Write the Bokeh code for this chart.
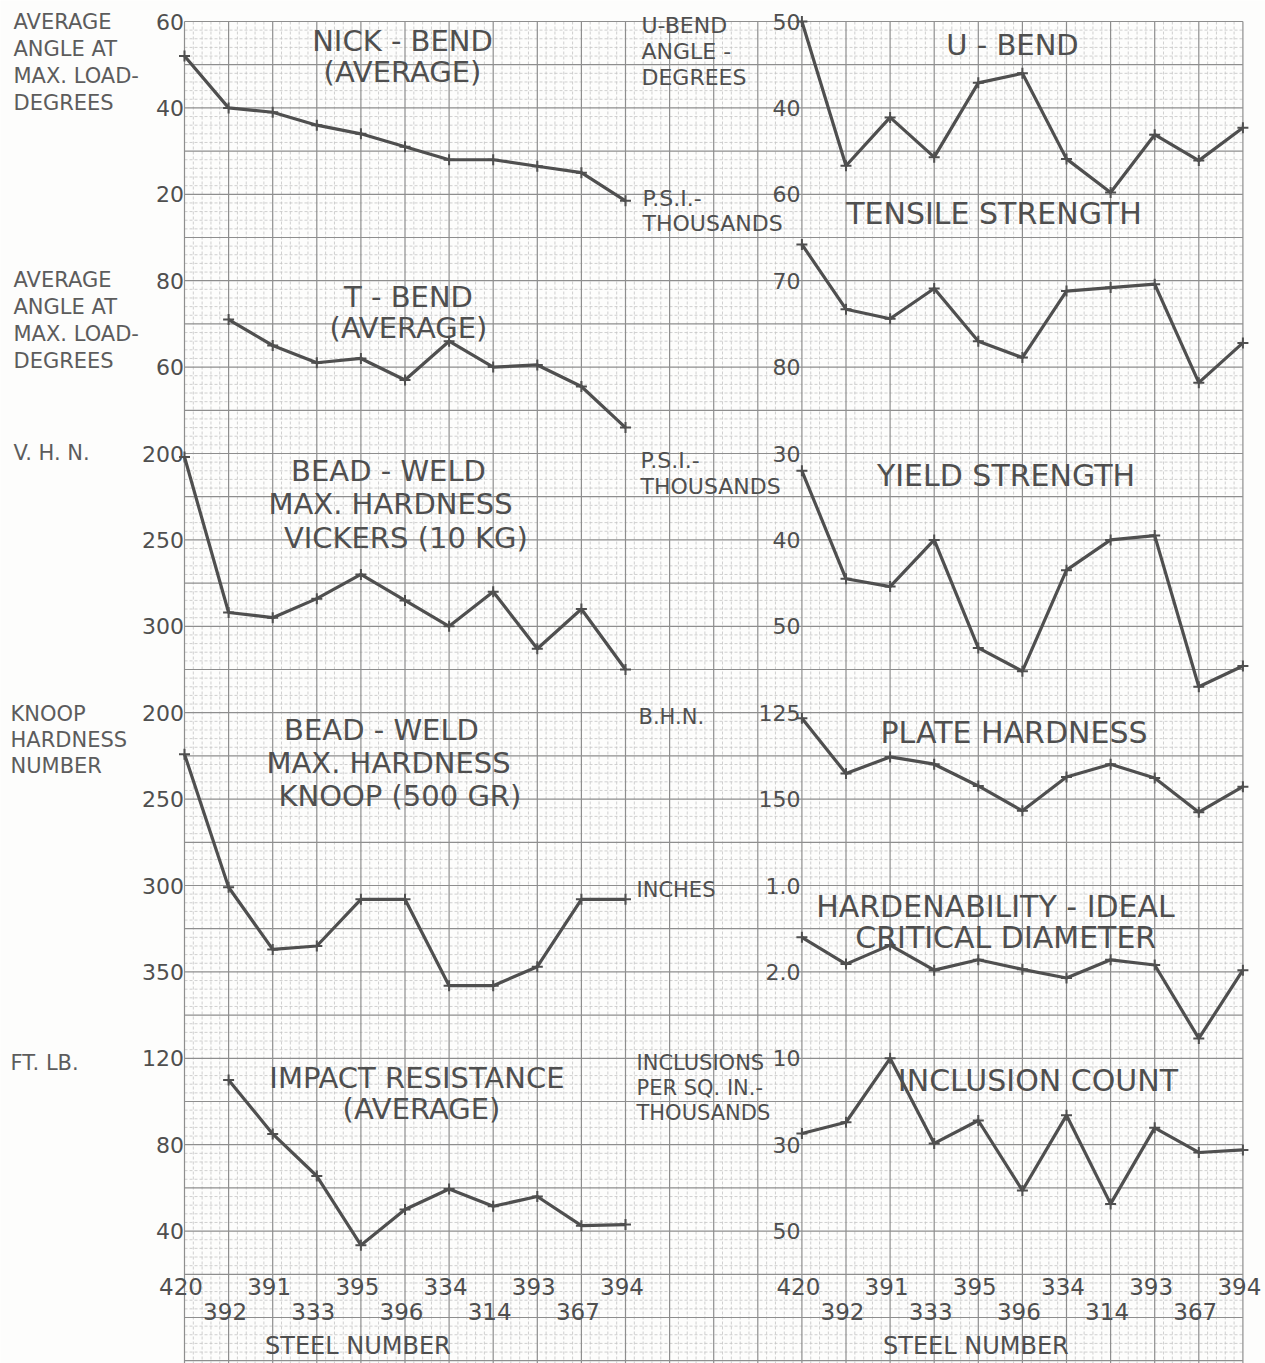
from bokeh.plotting import figure
from bokeh.models import Range1d
from bokeh.core.properties import value
from bokeh.embed import file_html
from bokeh.resources import INLINE

# ---- data -----------------------------------------------------------------
steels = ["420", "392", "391", "333", "395", "396", "334", "314", "393", "367", "394"]

# left column (T-bend and impact start at steel 392)
nick_bend = [52, 40, 39, 36, 34, 31, 28, 28, 26.5, 25, 18.5]
t_bend = [71, 65, 61, 62, 57, 66, 60, 60.5, 55.5, 46]
vickers = [202, 292, 295, 284, 270, 285, 300, 280, 313, 290, 325]
knoop = [224, 301, 337, 335, 308, 308, 358, 358, 347, 308, 308]
impact = [110, 85, 65.5, 33.5, 50, 59.5, 51.5, 56, 42.5, 43]

# right column
u_bend = [50, 33.3, 38.9, 34.3, 42.9, 44, 34.1, 30.2, 36.9, 33.9, 37.7]
tensile = [65.8, 73.3, 74.4, 70.9, 77, 78.9, 71.2, 70.8, 70.4, 81.8, 77.2]
yield_strength = [32, 44.5, 45.4, 40, 52.5, 55.2, 43.5, 40, 39.5, 57, 54.6]
plate_hardness = [126.6, 142.6, 137.8, 139.9, 146.2, 153.4, 143.6, 139.9, 143.9, 153.8, 146.4]
hardenability = [1.60, 1.91, 1.69, 1.98, 1.86, 1.97, 2.07, 1.86, 1.92, 2.77, 1.98]
inclusions = [27.4, 24.8, 10, 29.7, 24.4, 40.6, 23.2, 43.7, 26.1, 31.8, 31.2]

# tick labels of each scale
nick_ticks = [60, 40, 20]
tbend_ticks = [80, 60]
vickers_ticks = [200, 250, 300]
knoop_ticks = [200, 250, 300, 350]
impact_ticks = [120, 80, 40]
ubend_ticks = [50, 40]
tensile_ticks = [60, 70, 80]
yield_ticks = [30, 40, 50]
plate_ticks = [125, 150]
harden_ticks = [1.0, 2.0]
incl_ticks = [10, 30, 50]

# ---- page geometry ------------------------------------------------------------
W, H = 1265, 1363
X0, DX = 184.0, 44.1      # first steel column, spacing of steel columns (px)
Y0, DY = 21.0, 43.2       # top line of the graph paper, major square height (px)
RIGHT = 14                # slot where the right-hand column begins
INK = "#4f4f4f"
FONT = value("DejaVu Sans")

p = figure(width=W, height=H, x_range=Range1d(0, W), y_range=Range1d(H, 0),
           x_axis_type=None, y_axis_type=None, output_backend="svg",
           toolbar_location=None, min_border=0)
p.outline_line_color = None
p.background_fill_color = "#fdfdfc"
p.border_fill_color = "#fdfdfc"

# steel slots along x
p.extra_x_ranges = {"steel": Range1d(start=(0 - X0) / DX, end=(W - X0) / DX)}


def scale(ref_value, ref_row, per_row):
    """A value axis whose ref_value sits on paper row ref_row, changing per_row per square."""
    row_bottom = (H - Y0) / DY
    row_top = (0 - Y0) / DY
    return Range1d(start=ref_value + (row_bottom - ref_row) * per_row,
                   end=ref_value + (row_top - ref_row) * per_row)


p.extra_y_ranges = {
    "nick": scale(60, 0, -10),
    "tbend": scale(80, 6, -10),
    "vickers": scale(200, 10, 25),
    "knoop": scale(200, 16, 25),
    "impact": scale(120, 24, -20),
    "ubend": scale(50, 0, -5),
    "tensile": scale(60, 4, 5),
    "yield": scale(30, 10, 5),
    "plate": scale(125, 16, 12.5),
    "harden": scale(1.0, 20, 0.5),
    "incl": scale(10, 24, 10),
}

# ---- graph paper ---------------------------------------------------------------
x_end = X0 + 24 * DX
minor_xs, minor_ys, major_xs, major_ys = [], [], [], []
k = 0
while X0 + k * DX / 5 <= x_end + 0.5:
    xv = X0 + k * DX / 5
    (major_xs if k % 5 == 0 else minor_xs).append([xv, xv])
    (major_ys if k % 5 == 0 else minor_ys).append([Y0, H])
    k += 1
hx_minor, hy_minor, hx_major, hy_major = [], [], [], []
k = 0
while Y0 + k * DY / 5 <= H:
    yv = Y0 + k * DY / 5
    if k % 5 == 0:
        hx_major.append([X0, x_end]); hy_major.append([yv, yv])
    else:
        hx_minor.append([X0, x_end]); hy_minor.append([yv, yv])
    k += 1
p.multi_line(minor_xs + hx_minor, minor_ys + hy_minor, line_color="#c4c4c4",
             line_width=0.8, line_dash="3 2")
p.multi_line(major_xs + hx_major, major_ys + hy_major, line_color="#8e8e8e",
             line_width=1.2)

# ---- series ----------------------------------------------------------------------
left_x = list(range(len(steels)))
right_x = [RIGHT + i for i in left_x]

series = [
    (left_x, nick_bend, "nick"),
    (left_x[1:], t_bend, "tbend"),
    (left_x, vickers, "vickers"),
    (left_x, knoop, "knoop"),
    (left_x[1:], impact, "impact"),
    (right_x, u_bend, "ubend"),
    (right_x, tensile, "tensile"),
    (right_x, yield_strength, "yield"),
    (right_x, plate_hardness, "plate"),
    (right_x, hardenability, "harden"),
    (right_x, inclusions, "incl"),
]
for xs, ys, name in series:
    p.line(xs, ys, x_range_name="steel", y_range_name=name,
           line_color=INK, line_width=3.2)
    p.scatter(xs, ys, x_range_name="steel", y_range_name=name, marker="cross",
              size=11, line_color=INK, line_width=2)

# ---- value scales ------------------------------------------------------------------
def tick_fmt(t):
    return f"{t:.1f}" if isinstance(t, float) else str(t)


scales_left = [("nick", nick_ticks), ("tbend", tbend_ticks), ("vickers", vickers_ticks),
               ("knoop", knoop_ticks), ("impact", impact_ticks)]
scales_right = [("ubend", ubend_ticks), ("tensile", tensile_ticks), ("yield", yield_ticks),
                ("plate", plate_ticks), ("harden", harden_ticks), ("incl", incl_ticks)]
for col_x, group in ((-0.01, scales_left), (RIGHT - 0.03, scales_right)):
    for name, ticks in group:
        p.text([col_x] * len(ticks), ticks, text=[tick_fmt(t) for t in ticks],
               x_range_name="steel", y_range_name=name, text_font=FONT,
               text_font_size="22px", text_color=INK, text_align="right",
               text_baseline="middle")

# ---- steel numbers along the bottom ---------------------------------------------------
for base in (0, RIGHT):
    top_row = [base + i - 0.08 for i in left_x[0::2]]
    low_row = [base + i - 0.08 for i in left_x[1::2]]
    p.text(top_row, [1286] * len(top_row), text=steels[0::2], x_range_name="steel",
           text_font=FONT, text_font_size="23px", text_color=INK,
           text_align="center", text_baseline="middle")
    p.text(low_row, [1311] * len(low_row), text=steels[1::2], x_range_name="steel",
           text_font=FONT, text_font_size="23px", text_color=INK,
           text_align="center", text_baseline="middle")

p.text([365, 983], [1345, 1345], text=["STEEL   NUMBER", "STEEL   NUMBER"],
       text_font=FONT, text_font_size="24px", text_color=INK,
       text_align="center", text_baseline="middle")


# ---- lettering --------------------------------------------------------------------------
def lines(x, y, rows, size, align="left", step=27, color=INK):
    p.text([x] * len(rows), [y + i * step for i in range(len(rows))], text=rows,
           text_font=FONT, text_font_size=f"{size}px", text_color=color,
           text_align=align, text_baseline="middle")


GREY = "#5c5c5c"
lines(13, 21, ["AVERAGE", "ANGLE  AT", "MAX. LOAD-", "DEGREES"], 21, color=GREY)
lines(13, 279, ["AVERAGE", "ANGLE  AT", "MAX. LOAD-", "DEGREES"], 21, color=GREY)
lines(13, 452, ["V. H. N."], 21, color=GREY)
lines(10, 713, ["KNOOP", "HARDNESS", "NUMBER"], 21, step=26, color=GREY)
lines(10, 1062, ["FT.  LB."], 21, color=GREY)

lines(641, 25, ["U-BEND", "ANGLE -", "DEGREES"], 22, step=26)
lines(642, 198, ["P.S.I.-", "THOUSANDS"], 22, step=25)
lines(640, 460, ["P.S.I.-", "THOUSANDS"], 22, step=26)
lines(638, 716, ["B.H.N."], 21)
lines(636, 889, ["INCHES"], 21)
lines(636, 1062, ["INCLUSIONS", "PER SQ. IN.-", "THOUSANDS"], 21, step=25)

TITLE = 29
lines(402, 40, ["NICK - BEND", "(AVERAGE)"], TITLE, align="center", step=31)
lines(408, 296, ["T - BEND", "(AVERAGE)"], TITLE, align="center", step=31)
p.text([388, 390, 410], [470, 503, 537],
       text=["BEAD - WELD", "MAX. HARDNESS", "VICKERS  (10 KG)"],
       text_font=FONT, text_font_size=f"{TITLE}px", text_color=INK,
       text_align="center", text_baseline="middle")
p.text([381, 388, 404], [729, 762, 795],
       text=["BEAD - WELD", "MAX. HARDNESS", "KNOOP  (500 GR)"],
       text_font=FONT, text_font_size=f"{TITLE}px", text_color=INK,
       text_align="center", text_baseline="middle")
lines(421, 1077, ["IMPACT  RESISTANCE", "(AVERAGE)"], TITLE, align="center", step=31)

lines(1012, 44, ["U - BEND"], TITLE, align="center")
lines(1003, 213, ["TENSILE   STRENGTH"], 30, align="center")
lines(1015, 475, ["YIELD   STRENGTH"], 30, align="center")
lines(1023, 732, ["PLATE   HARDNESS"], 30, align="center")
p.text([995, 1010], [906, 937], text=["HARDENABILITY - IDEAL", "CRITICAL  DIAMETER"],
       text_font=FONT, text_font_size="30px", text_color=INK,
       text_align="center", text_baseline="middle")
lines(1047, 1080, ["INCLUSION   COUNT"], 30, align="center")

open("out.html", "w").write(file_html(p, INLINE))
